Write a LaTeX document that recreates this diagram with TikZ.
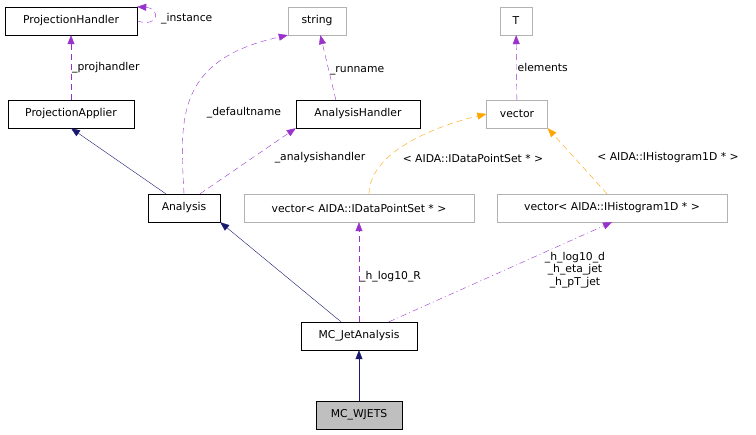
\documentclass[tikz,border=0pt]{standalone}
\usepackage{fontspec}
\setmainfont{DejaVu Sans}
\usetikzlibrary{arrows.meta,positioning}
\definecolor{usecol}{RGB}{153,50,204}
\definecolor{inhcol}{RGB}{25,25,112}
\definecolor{tplcol}{RGB}{255,165,0}
\tikzset{
  cls/.style={draw=black,fill=white,minimum height=28pt,inner xsep=3pt,font=\fontsize{10.8}{12.5}\selectfont},
  tmpl/.style={cls,draw=black!30},
  cur/.style={cls,fill=black!25},
  inh/.style={draw=inhcol,-{Triangle[length=9pt,width=7pt]}},
  use/.style={draw=usecol,dash pattern=on 6pt off 4pt,-{Triangle[length=9pt,width=7pt]}},
  tpl/.style={draw=tplcol,dash pattern=on 6pt off 4pt,-{Triangle[length=9pt,width=7pt]}},
  lbl/.style={font=\fontsize{10.8}{12.5}\selectfont,align=center,inner sep=1pt}
}
\begin{document}
\begin{tikzpicture}[x=1pt,y=-1pt]
\useasboundingbox (0,0) rectangle (756,435);
\node[cls,minimum width=132pt] (ph) at (71,21) {ProjectionHandler};
\node[tmpl,minimum width=58pt] (str) at (317,21) {string};
\node[tmpl,minimum width=32pt] (T) at (516,21) {T};
\node[cls,minimum width=126pt] (pa) at (71,114) {ProjectionApplier};
\node[cls,minimum width=124pt] (ah) at (358,114) {AnalysisHandler};
\node[tmpl,minimum width=61pt] (vec) at (517,114) {vector};
\node[cls,minimum width=72pt] (an) at (184,208) {Analysis};
\node[tmpl,minimum width=230pt] (vdp) at (359,208) {vector< AIDA::IDataPointSet * >};
\node[tmpl,minimum width=230pt] (vh) at (612,208) {vector< AIDA::IHistogram1D * >};
\node[cls,minimum width=116pt] (mj) at (359,336) {MC\_JetAnalysis};
\node[cur,minimum width=86pt] (mw) at (359,415) {MC\_WJETS};

% inheritance
\draw[inh] (an.north west) ++(18,0) coordinate (a1) -- (pa.south);
\draw[inh] (mj.north) ++(-18,0) coordinate (m1) -- (an.south east);
\draw[inh] (mw) -- (mj);

% usage
\draw[use] (ph.east) .. controls (160,28) and (160,8) .. (ph.north east);
\node[lbl,anchor=west] at (160,19) {\_instance};
\draw[use] (pa) -- node[lbl,right] {\_projhandler} (ph);
\draw[use] (an.north) .. controls (180,120) and (175,60) .. (str.south west);
\node[lbl] at (244,113) {\_defaultname};
\draw[use] (ah.north west) ++(40,0) coordinate (h1) -- node[lbl,right,pos=0.45] {\_runname} (str);
\draw[use] (an.north) ++(16,0) coordinate (a2) -- (ah.south west);
\node[lbl] at (320,158) {\_analysishandler};
\draw[use] (vec) -- node[lbl,right] {elements} (T);
\draw[use] (mj.north) -- node[lbl,right,pos=0.45] {\_h\_log10\_R} (vdp);
\draw[use,dash pattern=on 6pt off 3pt on 1pt off 3pt] (mj.north) ++(30,0) coordinate (m2) -- (vh.south);
\node[lbl] at (575,270) {\_h\_log10\_d\\\_h\_eta\_jet\\\_h\_pT\_jet};

% templates
\draw[tpl] (vdp.north) ++(10,0) coordinate (v1) .. controls (370,150) and (440,125) .. (vec.west);
\node[lbl] at (473,158) {< AIDA::IDataPointSet * >};
\draw[tpl] (vh.north) ++(-5,0) coordinate (v2) -- (vec.south east);
\node[lbl] at (668,158) {< AIDA::IHistogram1D * >};
\end{tikzpicture}
\end{document}
